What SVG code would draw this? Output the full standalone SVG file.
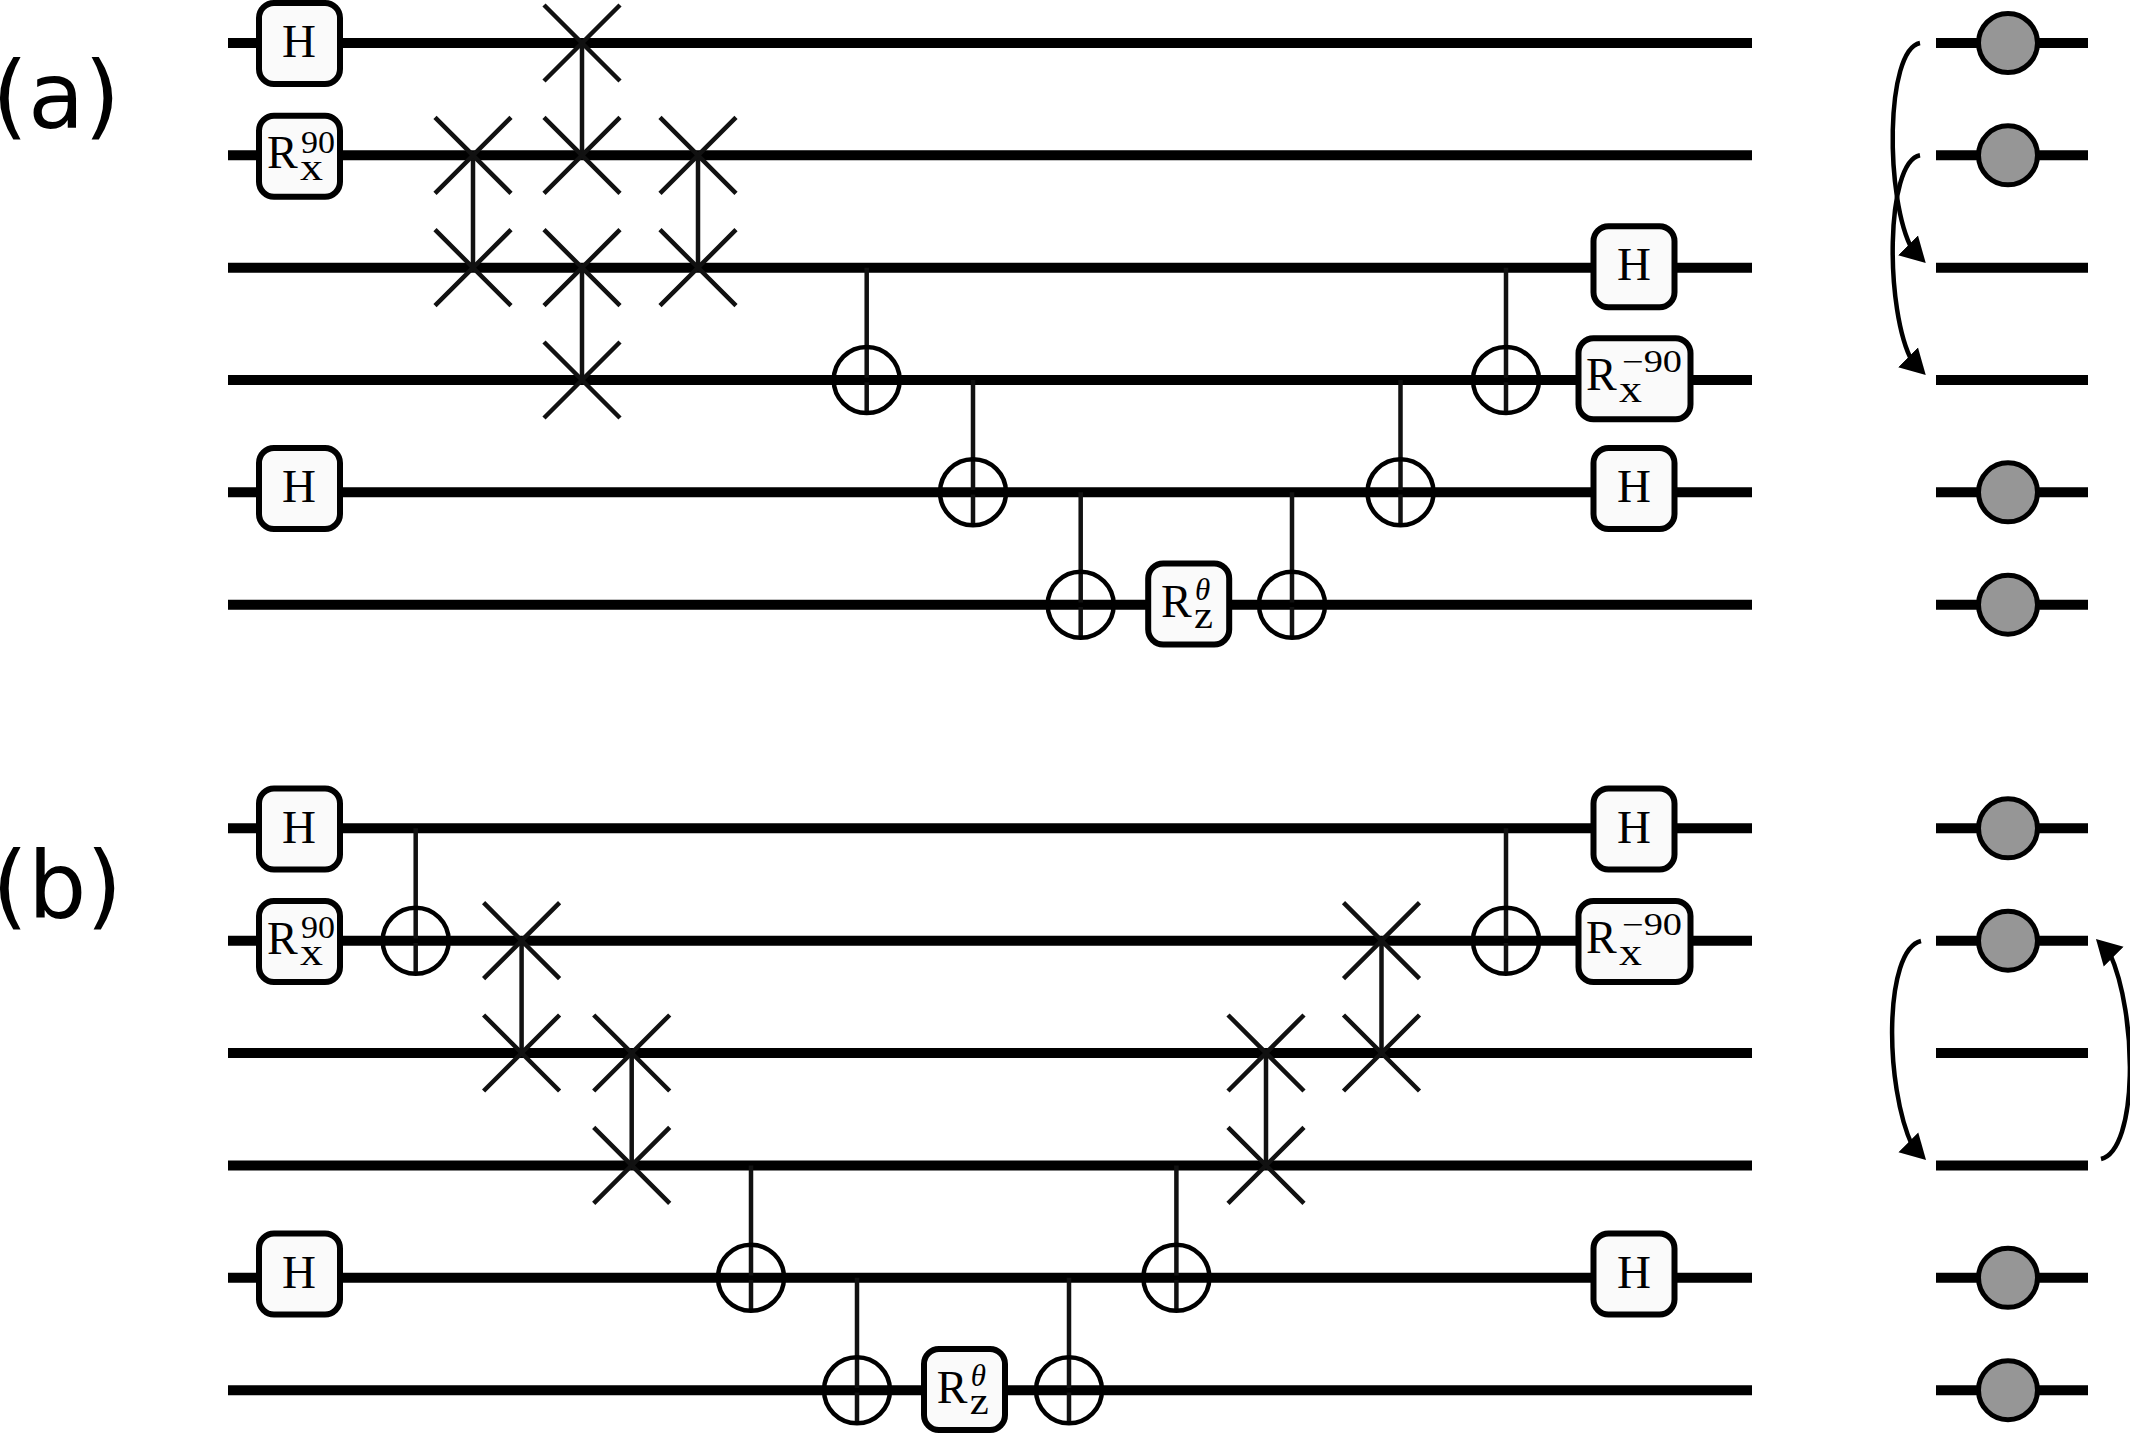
<svg xmlns="http://www.w3.org/2000/svg" width="2130" height="1434" viewBox="0 0 2130 1434">
<defs>
<style>
.w{stroke:#000;stroke-width:10;fill:none}
.c{stroke:#111;stroke-width:4.5;fill:none}
.o{stroke:#000;stroke-width:4.5;fill:none}
.b{fill:#fafafa;stroke:#000;stroke-width:6}
.d{fill:#969696;stroke:#000;stroke-width:5}
.a{stroke:#000;stroke-width:4.5;fill:none}
.t{font-family:"Liberation Serif",serif;fill:#000}
.m{font-size:47px}
.r{font-size:46px}
.s{font-size:38px}
.u{font-size:31px}
.i{font-style:italic}
.l{font-family:"DejaVu Sans",sans-serif;font-size:92px;fill:#000}
</style>
<marker id="hd" markerUnits="userSpaceOnUse" markerWidth="40" markerHeight="40" refX="6" refY="20" orient="45"><path d="M0 6L25 20L0 34Z" fill="#000"/></marker>
<marker id="hu" markerUnits="userSpaceOnUse" markerWidth="40" markerHeight="40" refX="6" refY="20" orient="225"><path d="M0 6L25 20L0 34Z" fill="#000"/></marker>
<g id="cnot"><circle r="33" class="o"/><path d="M-33 0H33" class="o"/></g>
<g id="sw"><path d="M-38-38L38 38M-38 38L38-38" class="c"/></g>
</defs>
<rect width="2130" height="1434" fill="#fff"/>
<g id="wires">
<path class="w" d="M228 43H1752M228 155.3H1752M228 267.7H1752M228 380H1752M228 492.3H1752M228 604.7H1752M228 828.3H1752M228 940.7H1752M228 1053H1752M228 1165.4H1752M228 1277.8H1752M228 1390.2H1752"/>
<path class="w" d="M1936 43H2088M1936 155.3H2088M1936 267.7H2088M1936 380H2088M1936 492.3H2088M1936 604.7H2088M1936 828.3H2088M1936 940.7H2088M1936 1053H2088M1936 1165.4H2088M1936 1277.8H2088M1936 1390.2H2088"/>
</g>
<g id="connectors">
<path class="c" d="M473 155.3V267.7M582 43V155.3M582 267.7V380M698 155.3V267.7"/>
<path class="c" d="M866.7 267.7V413M973 380V525M1080.7 492.3V638M1292 492.3V638M1400.5 380V525M1506 267.7V413"/>
<path class="c" d="M521.6 940.7V1053M631.7 1053V1165.4M1266 1053V1165.4M1381.5 940.7V1053"/>
<path class="c" d="M415.7 828.3V974M1506 828.3V974M751 1165.4V1311M857 1277.8V1423M1069 1277.8V1423M1176.4 1165.4V1311"/>
<path class="a" marker-end="url(#hd)" d="M1920 43C1885 50 1885 200 1912.3 249.6"/>
<path class="a" marker-end="url(#hd)" d="M1920 155.3C1885 162 1885 312 1912.3 361.6"/>
<path class="a" marker-end="url(#hd)" d="M1921 941C1884 950 1884 1085 1912.6 1146.6"/>
<path class="a" marker-end="url(#hu)" d="M2101 1159C2138 1150 2138 1015 2109.4 952.4"/>
</g>
<g id="swaps">
<use href="#sw" x="473" y="155.3"/><use href="#sw" x="473" y="267.7"/>
<use href="#sw" x="582" y="43"/><use href="#sw" x="582" y="155.3"/><use href="#sw" x="582" y="267.7"/><use href="#sw" x="582" y="380"/>
<use href="#sw" x="698" y="155.3"/><use href="#sw" x="698" y="267.7"/>
<use href="#sw" x="521.6" y="940.7"/><use href="#sw" x="521.6" y="1053"/>
<use href="#sw" x="631.7" y="1053"/><use href="#sw" x="631.7" y="1165.4"/>
<use href="#sw" x="1266" y="1053"/><use href="#sw" x="1266" y="1165.4"/>
<use href="#sw" x="1381.5" y="940.7"/><use href="#sw" x="1381.5" y="1053"/>
</g>
<g id="cnots">
<use href="#cnot" x="866.7" y="380"/><use href="#cnot" x="973" y="492.3"/><use href="#cnot" x="1080.7" y="604.7"/><use href="#cnot" x="1292" y="604.7"/><use href="#cnot" x="1400.5" y="492.3"/><use href="#cnot" x="1506" y="380"/>
<use href="#cnot" x="415.7" y="940.7"/><use href="#cnot" x="1506" y="940.7"/><use href="#cnot" x="751" y="1277.8"/><use href="#cnot" x="857" y="1390.2"/><use href="#cnot" x="1069" y="1390.2"/><use href="#cnot" x="1176.4" y="1277.8"/>
</g>
<g id="a-h1"><rect class="b" x="259" y="3" width="81" height="81" rx="15"/><text class="t m" x="299" y="57.3" text-anchor="middle">H</text></g>
<g id="a-rx"><rect class="b" x="259" y="115.8" width="81" height="81" rx="15"/><text class="t r" x="267" y="168.3">R</text><text class="t s" x="300" y="180" textLength="23" lengthAdjust="spacingAndGlyphs">x</text><text class="t u" x="301" y="152.7" textLength="34" lengthAdjust="spacingAndGlyphs">90</text></g>
<g id="a-h5"><rect class="b" x="259" y="448" width="81" height="81" rx="15"/><text class="t m" x="299" y="502" text-anchor="middle">H</text></g>
<g id="a-h3r"><rect class="b" x="1593.5" y="226.2" width="81" height="81" rx="15"/><text class="t m" x="1634" y="280.3" text-anchor="middle">H</text></g>
<g id="a-rxm"><rect class="b" x="1578.5" y="338.2" width="112" height="81" rx="15"/><text class="t r" x="1586" y="390">R</text><text class="t s" x="1619" y="401.7" textLength="23" lengthAdjust="spacingAndGlyphs">x</text><text class="t u" x="1622" y="371.7" textLength="60" lengthAdjust="spacingAndGlyphs">−90</text></g>
<g id="a-h5r"><rect class="b" x="1593.5" y="448" width="81" height="81" rx="15"/><text class="t m" x="1634" y="502" text-anchor="middle">H</text></g>
<g id="a-rz"><rect class="b" x="1148.2" y="563.5" width="81" height="81" rx="15"/><text class="t r" x="1161" y="617.3">R</text><text class="t s" x="1194" y="628.3" textLength="19" lengthAdjust="spacingAndGlyphs">z</text><text class="t u i" x="1195" y="600">θ</text></g>
<g id="b-h1"><rect class="b" x="259" y="788.5" width="81" height="81" rx="15"/><text class="t m" x="299" y="842.7" text-anchor="middle">H</text></g>
<g id="b-rx"><rect class="b" x="259" y="901" width="81" height="81" rx="15"/><text class="t r" x="267" y="953.5">R</text><text class="t s" x="300" y="965.2" textLength="23" lengthAdjust="spacingAndGlyphs">x</text><text class="t u" x="301" y="937.9" textLength="34" lengthAdjust="spacingAndGlyphs">90</text></g>
<g id="b-h5"><rect class="b" x="259" y="1233.5" width="81" height="81" rx="15"/><text class="t m" x="299" y="1287.7" text-anchor="middle">H</text></g>
<g id="b-h1r"><rect class="b" x="1593.5" y="788.5" width="81" height="81" rx="15"/><text class="t m" x="1634" y="842.7" text-anchor="middle">H</text></g>
<g id="b-rxm"><rect class="b" x="1578.5" y="901" width="112" height="81" rx="15"/><text class="t r" x="1586" y="952.8">R</text><text class="t s" x="1619" y="964.5" textLength="23" lengthAdjust="spacingAndGlyphs">x</text><text class="t u" x="1622" y="934.5" textLength="60" lengthAdjust="spacingAndGlyphs">−90</text></g>
<g id="b-h5r"><rect class="b" x="1593.5" y="1233.5" width="81" height="81" rx="15"/><text class="t m" x="1634" y="1287.7" text-anchor="middle">H</text></g>
<g id="b-rz"><rect class="b" x="924" y="1349" width="81" height="81" rx="15"/><text class="t r" x="936.8" y="1402.8">R</text><text class="t s" x="969.8" y="1413.8" textLength="19" lengthAdjust="spacingAndGlyphs">z</text><text class="t u i" x="970.8" y="1385.5">θ</text></g>
<g id="dots">
<circle class="d" cx="2008" cy="43" r="29.5"/><circle class="d" cx="2008" cy="155.3" r="29.5"/><circle class="d" cx="2008" cy="492.3" r="29.5"/><circle class="d" cx="2008" cy="604.7" r="29.5"/>
<circle class="d" cx="2008" cy="828.3" r="29.5"/><circle class="d" cx="2008" cy="940.7" r="29.5"/><circle class="d" cx="2008" cy="1277.8" r="29.5"/><circle class="d" cx="2008" cy="1390.2" r="29.5"/>
</g>
<g id="labels"><text class="l" x="-8" y="128">(a)</text><text class="l" x="-8" y="918">(b)</text></g>
</svg>
